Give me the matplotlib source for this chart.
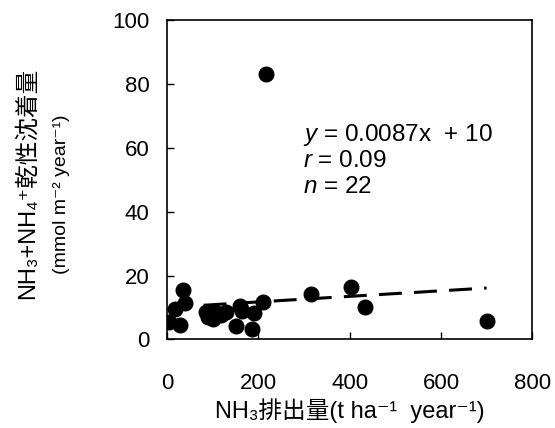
import matplotlib.pyplot as plt

plt.rcParams['font.family'] = ['Liberation Sans', 'Noto Sans CJK JP', 'DejaVu Sans']
plt.rcParams['mathtext.fontset'] = 'custom'
plt.rcParams['mathtext.rm'] = 'Liberation Sans'
plt.rcParams['mathtext.it'] = 'Liberation Sans:italic'

# NH3 emission (t/ha/yr) vs NH3+NH4+ dry deposition (mmol/m2/yr)
emission = [5, 28, 17, 36, 40, 85, 90, 100, 105, 118, 130, 150, 160, 165,
            185, 190, 210, 217, 316, 403, 434, 701]
deposition = [5.6, 4.5, 9.5, 15.5, 11.5, 8.5, 7.0, 6.3, 8.5, 7.5, 8.5, 4.3,
              10.5, 9.0, 3.3, 8.2, 11.8, 83.1, 14.2, 16.3, 10.3, 5.9]

slope = 0.0087
intercept = 10
fit_x = [80, 700]

xticks = [0, 200, 400, 600, 800]
yticks = [0, 20, 40, 60, 80, 100]

fig = plt.figure(figsize=(5.55, 4.28), dpi=100)
ax = fig.add_axes([0.301, 0.207, 0.658, 0.746])

ax.plot(emission, deposition, 'o', color='black', markersize=10.5, zorder=3)
ax.plot(fit_x, [slope * v + intercept for v in fit_x], color='black',
        lw=2.2, dashes=(7.5, 4), zorder=2)

ax.set_xlim(0, 800)
ax.set_ylim(0, 100)
ax.set_xticks(xticks)
ax.set_yticks(yticks)
ax.tick_params(direction='in', length=5, labelsize=16, width=1)
ax.tick_params(axis='x', pad=24)
ax.tick_params(axis='y', pad=12.5)
for s in ax.spines.values():
    s.set_linewidth(1.2)

ax.set_xlabel('NH₃排出量(t ha⁻¹  year⁻¹)', fontsize=17, labelpad=3)
fig.text(27 / 555, 1 - 183 / 428, 'NH₃+NH₄⁺乾性沈着量', rotation=90,
         ha='center', va='center', fontsize=17)
fig.text(62 / 555, 1 - 194 / 428, '(mmol m⁻² year⁻¹)', rotation=90,
         ha='center', va='center', fontsize=14)

ax.text(0.372, 0.622, '$y$ = 0.0087x  + 10', transform=ax.transAxes, fontsize=17.5)
ax.text(0.372, 0.541, '$r$ = 0.09', transform=ax.transAxes, fontsize=17.5)
ax.text(0.372, 0.460, '$n$ = 22', transform=ax.transAxes, fontsize=17.5)

fig.savefig('out.png', dpi=100)
